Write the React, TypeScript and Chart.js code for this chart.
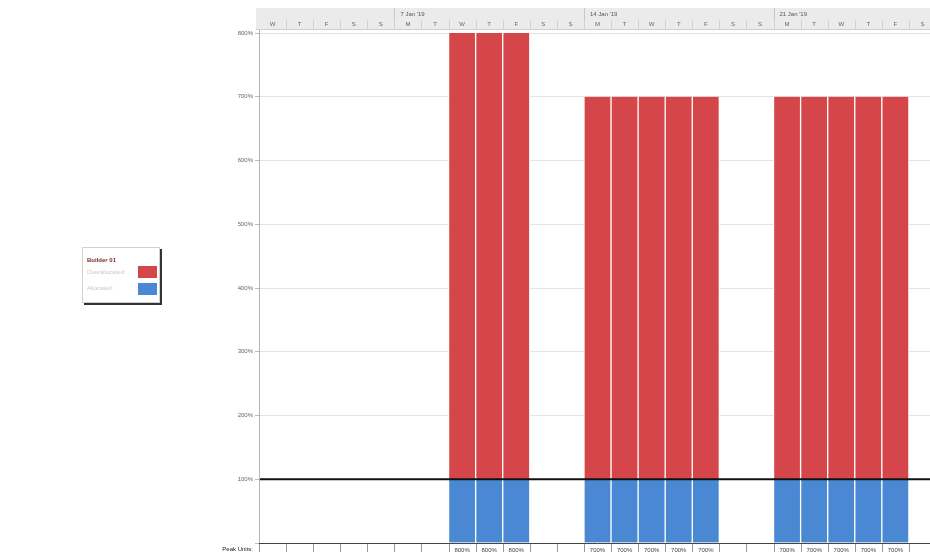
import React, { useEffect, useRef } from "react";
import { Chart, registerables } from "chart.js";

Chart.register(...registerables);

const days = ["W","T","F","S","S","M","T","W","T","F","S","S","M","T","W","T","F","S","S","M","T","W","T","F","S"];
const weekLabels = ["7 Jan '19", "14 Jan '19", "21 Jan '19"];
const weekStarts = [5, 12, 19];
const allocated = [null,null,null,null,null,null,null,100,100,100,null,null,100,100,100,100,100,null,null,100,100,100,100,100,null];
const overallocated = [null,null,null,null,null,null,null,700,700,700,null,null,600,600,600,600,600,null,null,600,600,600,600,600,null];
const peakUnits = allocated.map((a, i) => (a == null ? "" : `${(a || 0) + (overallocated[i] || 0)}%`));
const maxUnits = 100;
const yMax = 800;
const yStep = 100;

const RED = "#d4464a";
const BLUE = "#4a88d4";
const FONT = "'Liberation Sans', Arial, sans-serif";

const overlay = {
  id: "overlay",
  afterDatasetsDraw(chart: any) {
    const { ctx, chartArea, scales } = chart;
    const y = scales.y.getPixelForValue(maxUnits);
    ctx.save();
    ctx.strokeStyle = "#111";
    ctx.lineWidth = 2;
    ctx.beginPath();
    ctx.moveTo(chartArea.left, y);
    ctx.lineTo(chartArea.right, y);
    ctx.stroke();
    ctx.restore();
  },
  afterDraw(chart: any) {
    const { ctx, chartArea, scales } = chart;
    const x = scales.x;
    const n = days.length;
    const colW = (chartArea.right - chartArea.left) / n;
    const left = chartArea.left;
    ctx.save();
    // header
    const hTop = 0, hMid = 11, hBot = 21;
    ctx.fillStyle = "#ebebeb";
    ctx.fillRect(left - 3, hTop, chartArea.right - left + 3, hBot - hTop);
    ctx.strokeStyle = "#cfcfcf";
    ctx.lineWidth = 1;
    ctx.beginPath();
    ctx.moveTo(left - 3, hBot + 0.5);
    ctx.lineTo(chartArea.right, hBot + 0.5);
    ctx.stroke();
    ctx.font = `6px ${FONT}`;
    ctx.fillStyle = "#555";
    ctx.textBaseline = "middle";
    ctx.textAlign = "left";
    weekStarts.forEach((s, i) => {
      const xs = left + s * colW;
      ctx.fillStyle = "#555";
      ctx.fillText(weekLabels[i], xs + 6, hTop + 6);
      ctx.beginPath();
      ctx.strokeStyle = "#c8c8c8";
      ctx.moveTo(Math.round(xs) + 0.5, hTop);
      ctx.lineTo(Math.round(xs) + 0.5, hBot);
      ctx.stroke();
    });
    ctx.textAlign = "center";
    days.forEach((d, i) => {
      const cx = x.getPixelForValue(i);
      ctx.fillStyle = "#666";
      ctx.fillText(d, cx, hMid + 5);
      const xs = Math.round(left + (i + 1) * colW) + 0.5;
      ctx.strokeStyle = "#d2d2d2";
      ctx.beginPath();
      ctx.moveTo(xs, hMid + 1);
      ctx.lineTo(xs, hBot);
      ctx.stroke();
    });
    // y axis line
    ctx.strokeStyle = "#b5b5b5";
    ctx.beginPath();
    ctx.moveTo(left + 0.5, chartArea.top - 3);
    ctx.lineTo(left + 0.5, chartArea.bottom);
    ctx.stroke();
    // bottom axis line
    ctx.strokeStyle = "#444";
    ctx.beginPath();
    ctx.moveTo(left, chartArea.bottom + 0.5);
    ctx.lineTo(chartArea.right, chartArea.bottom + 0.5);
    ctx.stroke();
    // peak units row
    const rTop = chartArea.bottom + 1;
    ctx.font = `6px ${FONT}`;
    ctx.fillStyle = "#222";
    ctx.textAlign = "right";
    ctx.fillText("Peak Units:", left - 6, rTop + 5);
    ctx.textAlign = "center";
    for (let i = 0; i <= n; i++) {
      const xs = Math.round(left + i * colW) + 0.5;
      ctx.strokeStyle = "#999";
      ctx.beginPath();
      ctx.moveTo(xs, rTop);
      ctx.lineTo(xs, rTop + 12);
      ctx.stroke();
    }
    peakUnits.forEach((p, i) => {
      if (!p) return;
      const cx = x.getPixelForValue(i);
      ctx.fillStyle = "#444";
      ctx.fillText(p, cx, rTop + 6);
    });
    ctx.restore();
  },
};

export default function App() {
  const ref = useRef<HTMLCanvasElement>(null);
  useEffect(() => {
    if (!ref.current) return;
    const chart = new Chart(ref.current, {
      type: "bar",
      data: {
        labels: days.map((d, i) => `${d}${i}`),
        datasets: [
          {
            label: "Allocated:",
            data: allocated,
            backgroundColor: BLUE,
            borderColor: "#ffffff",
            borderWidth: { left: 1, right: 1, top: 0, bottom: 0 } as any,
            borderSkipped: false,
            barPercentage: 1,
            categoryPercentage: 1,
            stack: "s",
          },
          {
            label: "Overallocated:",
            data: overallocated,
            backgroundColor: RED,
            borderColor: "#ffffff",
            borderWidth: { left: 1, right: 1, top: 0, bottom: 0 } as any,
            borderSkipped: false,
            barPercentage: 1,
            categoryPercentage: 1,
            stack: "s",
          },
        ],
      },
      options: {
        animation: false,
        responsive: false,
        maintainAspectRatio: false,
        layout: { padding: { top: 25, bottom: 9, left: 0, right: 0 } },
        plugins: { legend: { display: false }, tooltip: { enabled: false } },
        scales: {
          x: { display: false, stacked: true, offset: true, grid: { display: false } },
          y: {
            stacked: true,
            min: 0,
            max: yMax,
            border: { display: false },
            afterFit: (s: any) => { s.width = 251; },
            grid: { color: "#e4e4e4", tickLength: 4, drawTicks: true, tickColor: "#bbb" },
            ticks: {
              stepSize: yStep,
              padding: 2,
              color: "#666",
              font: { size: 6, family: FONT },
              callback: (v: any) => (v === 0 ? "" : `${v}%`),
            },
          },
        },
      },
      plugins: [overlay],
    });
    return () => chart.destroy();
  }, []);

  return (
    <div style={{ position: "fixed", left: 0, top: 0, width: 930, height: 552, overflow: "hidden" }}>
      <canvas
        ref={ref}
        width={928}
        height={544}
        style={{ position: "absolute", left: 8, top: 8, display: "block", width: 928, height: 544 }}
      />
      <div
        style={{
          position: "absolute",
          left: 82,
          top: 247,
          width: 76,
          height: 54,
          background: "#fff",
          border: "1px solid #d0d0d0",
          boxShadow: "2px 2px 0 #333",
          fontFamily: FONT,
          fontSize: 6,
          lineHeight: "8px",
        }}
      >
        <div style={{ position: "absolute", left: 4, top: 8, fontWeight: "bold", color: "#7a2a2a" }}>Builder 01</div>
        <div style={{ position: "absolute", left: 4, top: 20, color: "#c8c8c8" }}>Overallocated:</div>
        <div style={{ position: "absolute", left: 55, top: 18, width: 19, height: 12, background: RED }} />
        <div style={{ position: "absolute", left: 4, top: 36, color: "#c8c8c8" }}>Allocated:</div>
        <div style={{ position: "absolute", left: 55, top: 35, width: 19, height: 12, background: BLUE }} />
      </div>
    </div>
  );
}
